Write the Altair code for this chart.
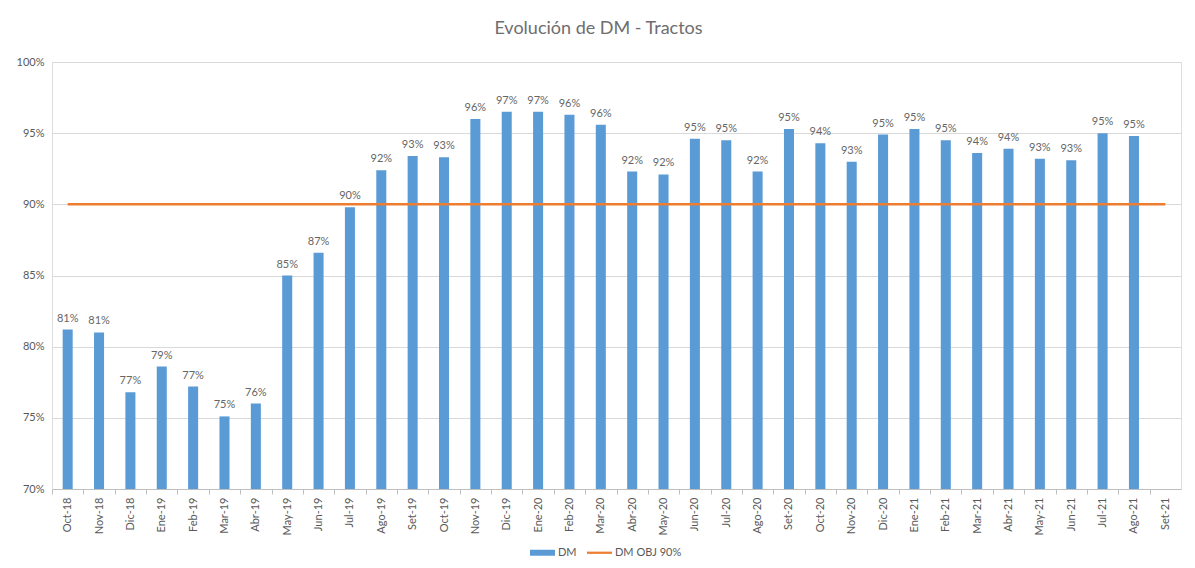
import altair as alt
import pandas as pd

months = ["Oct-18", "Nov-18", "Dic-18", "Ene-19", "Feb-19", "Mar-19", "Abr-19", "May-19",
          "Jun-19", "Jul-19", "Ago-19", "Set-19", "Oct-19", "Nov-19", "Dic-19", "Ene-20",
          "Feb-20", "Mar-20", "Abr-20", "May-20", "Jun-20", "Jul-20", "Ago-20", "Set-20",
          "Oct-20", "Nov-20", "Dic-20", "Ene-21", "Feb-21", "Mar-21", "Abr-21", "May-21",
          "Jun-21", "Jul-21", "Ago-21", "Set-21"]
dm = [81.2, 81.0, 76.8, 78.6, 77.2, 75.1, 76.0, 85.0,
      86.6, 89.8, 92.4, 93.4, 93.3, 96.0, 96.5, 96.5,
      96.3, 95.6, 92.3, 92.1, 94.6, 94.5, 92.3, 95.3,
      94.3, 93.0, 94.9, 95.3, 94.5, 93.6, 93.9, 93.2,
      93.1, 95.0, 94.8, None]
obj = [90] * 36
series = ["DM", "DM OBJ 90%"]

df = pd.DataFrame({"mes": months, "DM": dm, "OBJ": obj})

FONT = "Lato"
GRAY = "#595959"
BLUE = "#5b9bd5"
ORANGE = "#ed7d31"
HALF_STEP = 1129 / 36 / 2

xaxis = alt.Axis(title=None, labelAngle=-90, grid=False, ticks=True,
                 tickOffset=-HALF_STEP, labelOffset=HALF_STEP,
                 domainColor="#bfbfbf", tickColor="#bfbfbf", tickSize=5,
                 labelColor=GRAY, labelFontSize=11, labelFont=FONT, labelPadding=3)
xscale = alt.Scale(domain=months, paddingInner=0.68, paddingOuter=0.34)
xenc = alt.X("mes:N", sort=months, scale=xscale, axis=xaxis)

yscale = alt.Scale(domain=[70, 100], nice=False, zero=False)
yaxis = alt.Axis(title=None, values=[70, 75, 80, 85, 90, 95, 100],
                 labelExpr="datum.value + '%'", domain=False, ticks=False,
                 grid=True, gridColor="#d9d9d9", labelColor=GRAY,
                 labelFontSize=11, labelFont=FONT, labelPadding=8)

color_scale = alt.Scale(domain=series, range=[BLUE, ORANGE])
legend = alt.Legend(
    title=None, orient="none", legendX=478, legendY=478, direction="horizontal",
    labelFontSize=11, labelFont=FONT, labelColor=GRAY, symbolSize=625,
    columnPadding=10, labelOffset=3,
    symbolType=alt.ExprRef("datum.label == 'DM' ? 'M-1,-0.24H1V0.24H-1Z' : 'M-1,-0.09H1V0.09H-1Z'"),
    symbolFillColor=alt.ExprRef("datum.label == 'DM' ? '" + BLUE + "' : '" + ORANGE + "'"),
    symbolStrokeWidth=0,
)
color_enc = alt.Color("serie:N", scale=color_scale, legend=legend)

base = alt.Chart(df)

bars = base.transform_filter("isValid(datum.DM)").transform_calculate(
    serie="'DM'"
).mark_bar().encode(
    x=xenc,
    y=alt.Y("DM:Q", scale=yscale, axis=yaxis),
    y2=alt.datum(70),
    color=color_enc,
)

labels = base.transform_filter("isValid(datum.DM)").transform_calculate(
    lab="format(datum.DM, '.0f') + '%'"
).mark_text(dy=-6, baseline="bottom", fontSize=11, font=FONT, color="#666666").encode(
    x=xenc,
    y=alt.Y("DM:Q", scale=yscale, axis=yaxis),
    text="lab:N",
)

line = base.transform_calculate(serie="'DM OBJ 90%'").mark_line(strokeWidth=2.5).encode(
    x=xenc,
    y=alt.Y("OBJ:Q", scale=yscale, axis=yaxis),
    color=color_enc,
)

chart = alt.layer(bars, line, labels).properties(
    width=1129, height=427,
    autosize=alt.AutoSizeParams(type="none"),
    padding={"left": 44, "top": 54, "right": 6, "bottom": 70},
    title=alt.TitleParams("Evolución de DM - Tractos", fontSize=18, font=FONT,
                          fontWeight="normal", color="#6e6e6e", anchor="middle",
                          offset=18, dx=-18),
).configure_view(fill="#f3f3f3", stroke=None).configure(background="white")

chart.save("out.html", embed_options={"renderer": "svg", "actions": False})
